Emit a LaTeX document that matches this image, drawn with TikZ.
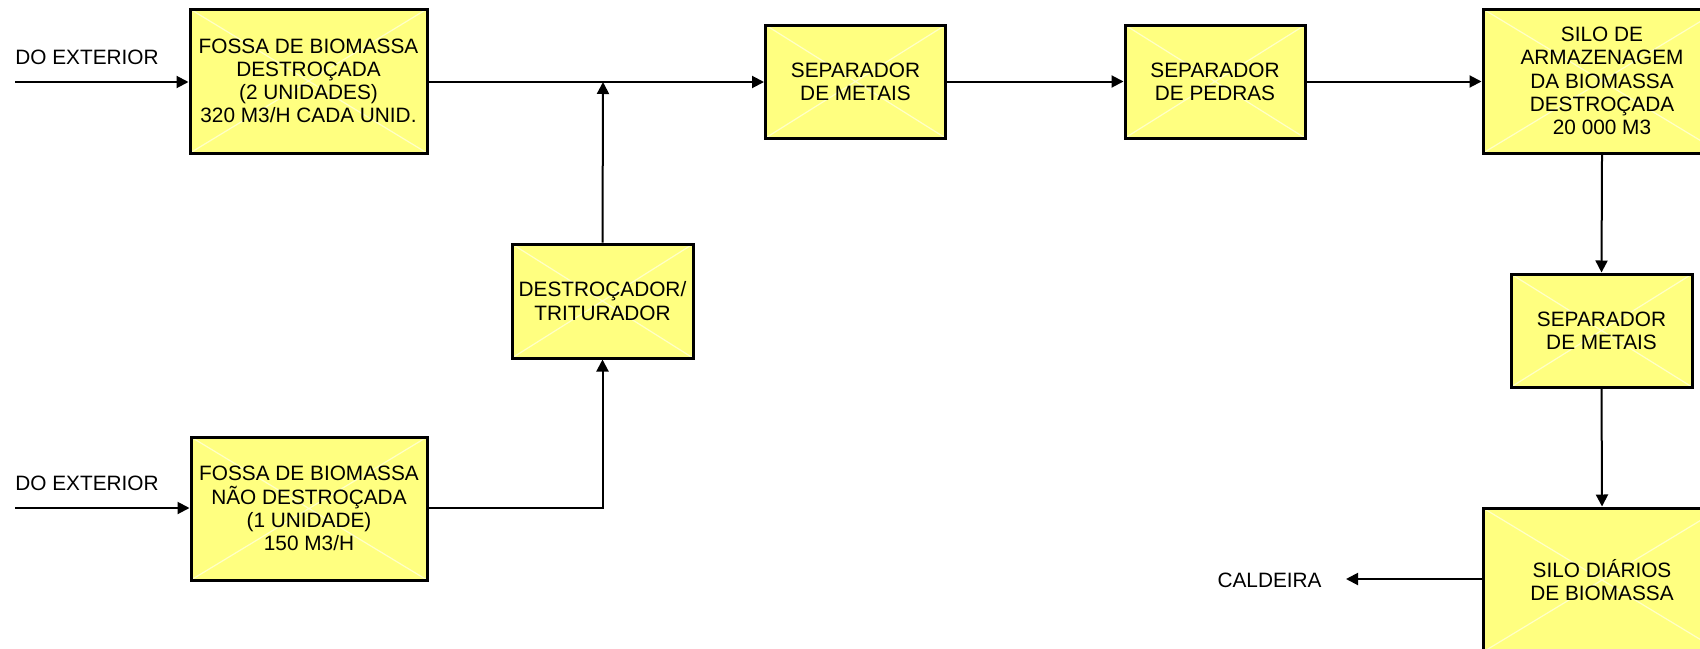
\documentclass[tikz,border=0pt]{standalone}
\usepackage{fontspec}
\setmainfont{Liberation Sans}
\usetikzlibrary{arrows.meta}

\definecolor{BoxFill}{HTML}{FFFF80}
\definecolor{BoxCross}{HTML}{FFFFC8}

\begin{document}
\begin{tikzpicture}[x=0.5pt,y=-0.5pt,
    box/.style={draw=black,line width=1.5pt,fill=BoxFill,inner sep=0pt,align=center,
      font=\fontsize{10.4}{11.6}\selectfont,
      path picture={\draw[BoxCross,line width=0.6pt]
        (path picture bounding box.north west) -- (path picture bounding box.south east)
        (path picture bounding box.south west) -- (path picture bounding box.north east);}},
    lbl/.style={font=\fontsize{10.4}{11.6}\selectfont,inner sep=0pt},
    flow/.style={line width=1pt,-{Triangle[length=6pt,width=6pt]}}]
    \useasboundingbox (0,0) rectangle (1700,648);
    \clip (0,0) rectangle (1700,648);

    % boxes
    \node[box,minimum width=118.5pt,minimum height=72pt] (fossaDest) at (308.5,81) {FOSSA DE BIOMASSA\\DESTROÇADA\\(2 UNIDADES)\\320 M3/H CADA UNID.};
    \node[box,minimum width=118pt,minimum height=71.5pt] (fossaNao) at (309,508.5) {FOSSA DE BIOMASSA\\NÃO DESTROÇADA\\(1 UNIDADE)\\150 M3/H};
    \node[box,minimum width=90.5pt,minimum height=57pt] (triturador) at (602.5,301) {DESTROÇADOR/\\TRITURADOR};
    \node[box,minimum width=90pt,minimum height=56.5pt] (sepMetais) at (855.5,81.5) {SEPARADOR\\DE METAIS};
    \node[box,minimum width=90pt,minimum height=56.5pt] (sepPedras) at (1215,81.5) {SEPARADOR\\DE PEDRAS};
    \node[box,minimum width=119pt,minimum height=72pt] (siloArm) at (1602,81) {SILO DE\\ARMAZENAGEM\\DA BIOMASSA\\DESTROÇADA\\20 000 M3};
    \node[box,minimum width=90.5pt,minimum height=56.5pt] (sepMetaisDois) at (1601.5,330.5) {SEPARADOR\\DE METAIS};
    \node[box,minimum width=119pt,minimum height=72pt] (siloDia) at (1602,580) {SILO DIÁRIOS\\DE BIOMASSA};

    % labels
    \node[lbl,anchor=west] (extA) at (15,57) {DO EXTERIOR};
    \node[lbl,anchor=west] (extB) at (15,483) {DO EXTERIOR};
    \node[lbl,anchor=east] (caldeira) at (1322,580) {CALDEIRA};

    \coordinate (inA) at (15,82);
    \coordinate (inB) at (15,508);
    \coordinate (juncao) at (603,82);
    \coordinate (outC) at (1346,579);

    % connectors
    \draw[flow] (inA) -- (inA -| fossaDest.west);
    \draw[flow] (inB) -- (inB -| fossaNao.west);
    \draw[flow] (juncao -| fossaDest.east) -- (juncao -| sepMetais.west);
    \draw[flow] (fossaNao.east |- inB) -| (triturador.south);
    \draw[flow] (triturador.north) -- (juncao);
    \draw[flow] (sepMetais.east) -- (sepPedras.west);
    \draw[flow] (sepPedras.east) -- (sepPedras.east -| siloArm.west);
    \draw[flow] (siloArm.south) -- (sepMetaisDois.north);
    \draw[flow] (sepMetaisDois.south) -- (siloDia.north);
    \draw[flow] (outC -| siloDia.west) -- (outC);
\end{tikzpicture}
\end{document}
